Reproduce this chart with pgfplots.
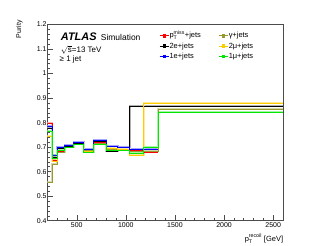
\documentclass[border=0pt]{standalone}
\usepackage{fontspec}
\setmainfont{Liberation Sans}
\usepackage{amsmath}
\usepackage{pgfplots}
\pgfplotsset{compat=1.18}
\definecolor{cred}{RGB}{255,0,0}
\definecolor{cblack}{RGB}{0,0,0}
\definecolor{cblue}{RGB}{0,0,255}
\definecolor{colive}{RGB}{153,153,51}
\definecolor{corange}{RGB}{255,204,0}
\definecolor{cgreen}{RGB}{0,230,0}
\begin{document}
\begin{tikzpicture}[x=1bp,y=1bp]
\path[use as bounding box] (0,0) rectangle (315,246);
\begin{axis}[
  at={(47.3bp,25.3bp)}, anchor=south west,
  scale only axis, width=235.7bp, height=196.2bp,
  xmin=200, xmax=2600, ymin=0.4, ymax=1.2,
  axis line style={black!70, line width=0.6bp},
  tick style={black!70, line width=0.5bp},
  tick align=inside, xtick pos=bottom, ytick pos=left,
  xtick={500,1000,1500,2000,2500},
  minor xtick={300,400,600,700,800,900,1100,1200,1300,1400,1600,1700,1800,1900,2100,2200,2300,2400,2600},
  ytick={0.4,0.5,0.6,0.7,0.8,0.9,1.0,1.1,1.2},
  minor y tick num=4,
  major tick length=5.5bp, minor tick length=2.8bp,
  tick label style={font=\fontsize{7}{8}\selectfont},
  /pgf/number format/assume math mode=true,
  /pgf/number format/1000 sep={},
  scaled ticks=false,
  yticklabel style={xshift=1bp},
  every tick label/.append style={inner sep=1.5bp},
  legend columns=2, legend cell align=left,
  legend style={at={(0.475,0.963)}, anchor=north west, draw=none, fill=none,
    inner sep=0pt, outer sep=0pt,
    font=\fontsize{7.5}{8}\selectfont, row sep=2.4bp,
    nodes={inner sep=0.5bp, text height=5.5bp, text depth=1.5bp},
    /tikz/every even column/.append style={column sep=17bp}},
  legend image code/.code={\draw[#1,line width=0.8bp] (0,0) -- (9bp,0); \fill[#1] (3.3bp,-1.3bp) rectangle (5.7bp,1.3bp);},
  const plot mark left,
  every axis plot/.append style={line width=0.8bp, mark=none},
]
% uncertainty bands (light)
\addplot[forget plot, cred!30, line width=2bp] coordinates {(200,0.797) (250,0.647) (300,0.683) (379,0.702) (470,0.719) (571,0.690) (672,0.722) (798,0.692) (916,0.692) (1038,0.690) (1183,0.680) (1332,0.680)};
\addplot[forget plot, black!30, line width=2bp] coordinates {(200,0.777) (250,0.662) (300,0.697) (379,0.707) (470,0.719) (571,0.692) (672,0.724) (798,0.683) (916,0.687) (1038,0.868) (2600,0.868)};
\addplot[forget plot, cblue!35, line width=2bp] coordinates {(200,0.787) (250,0.669) (300,0.699) (379,0.709) (470,0.720) (571,0.694) (672,0.730) (798,0.705) (916,0.699) (1038,0.693) (1183,0.693) (1332,0.693)};
\addplot[forget plot, colive!40, line width=2bp] coordinates {(200,0.557) (250,0.632) (300,0.682) (379,0.702) (470,0.718) (571,0.690) (672,0.718) (798,0.692) (916,0.694) (1038,0.686) (1183,0.686) (1332,0.857) (2600,0.857)};
\addplot[forget plot, corange!40, line width=2bp] coordinates {(200,0.747) (250,0.642) (300,0.687) (379,0.699) (470,0.712) (571,0.685) (672,0.712) (798,0.695) (916,0.692) (1038,0.667) (1183,0.881) (2600,0.881)};
\addplot[forget plot, cgreen!35, line width=2bp] coordinates {(200,0.767) (250,0.654) (300,0.687) (379,0.699) (470,0.714) (571,0.682) (672,0.712) (798,0.689) (916,0.687) (1038,0.678) (1183,0.701) (1332,0.844) (2600,0.844)};
% central values (order chosen so the legend reads column by column)
\addplot[cred] coordinates {(200,0.795) (250,0.645) (300,0.681) (379,0.700) (470,0.717) (571,0.688) (672,0.720) (798,0.690) (916,0.690) (1038,0.688) (1183,0.678) (1332,0.678)};
\addlegendentry{$\text{p}_{\text{T}}^{\text{miss}}$+jets}
\addplot[colive] coordinates {(200,0.555) (250,0.630) (300,0.680) (379,0.700) (470,0.716) (571,0.688) (672,0.716) (798,0.690) (916,0.692) (1038,0.684) (1183,0.684) (1332,0.854) (2600,0.854)};
\addlegendentry{γ+jets}
\addplot[cblack] coordinates {(200,0.775) (250,0.660) (300,0.695) (379,0.705) (470,0.717) (571,0.690) (672,0.722) (798,0.681) (916,0.685) (1038,0.865) (2600,0.865)};
\addlegendentry{2e+jets}
\addplot[corange] coordinates {(200,0.745) (250,0.640) (300,0.685) (379,0.697) (470,0.710) (571,0.683) (672,0.710) (798,0.693) (916,0.690) (1038,0.665) (1183,0.878) (2600,0.878)};
\addlegendentry{2μ+jets}
\addplot[cblue] coordinates {(200,0.785) (250,0.667) (300,0.697) (379,0.707) (470,0.718) (571,0.692) (672,0.728) (798,0.703) (916,0.697) (1038,0.691) (1183,0.691) (1332,0.691)};
\addlegendentry{1e+jets}
\addplot[cgreen] coordinates {(200,0.765) (250,0.652) (300,0.685) (379,0.697) (470,0.712) (571,0.680) (672,0.710) (798,0.687) (916,0.685) (1038,0.676) (1183,0.699) (1332,0.842) (2600,0.842)};
\addlegendentry{1μ+jets}
\end{axis}
\node[anchor=base west, inner sep=0pt, font=\fontsize{11}{12}\selectfont\bfseries\itshape] at (60.7,205.3) {ATLAS};
\node[anchor=base west, inner sep=0pt, font=\fontsize{8.5}{10}\selectfont] at (100.7,205.3) {Simulation};
\node[anchor=base west, inner sep=0pt, font=\fontsize{8}{10}\selectfont] at (60.7,193.8) {$\sqrt{\text{s}}$=13 TeV};
\node[anchor=base west, inner sep=0pt, font=\fontsize{8}{10}\selectfont] at (59.5,185) {≥ 1 jet};
\node[anchor=base east, inner sep=0pt, font=\fontsize{7.5}{9}\selectfont] at (283.3,5) {$\text{p}_{\text{T}}^{\text{recoil}}$ [GeV]};
\node[anchor=base east, rotate=90, inner sep=0pt, font=\fontsize{7}{8}\selectfont] at (21,226) {Purity};
\end{tikzpicture}
\end{document}
